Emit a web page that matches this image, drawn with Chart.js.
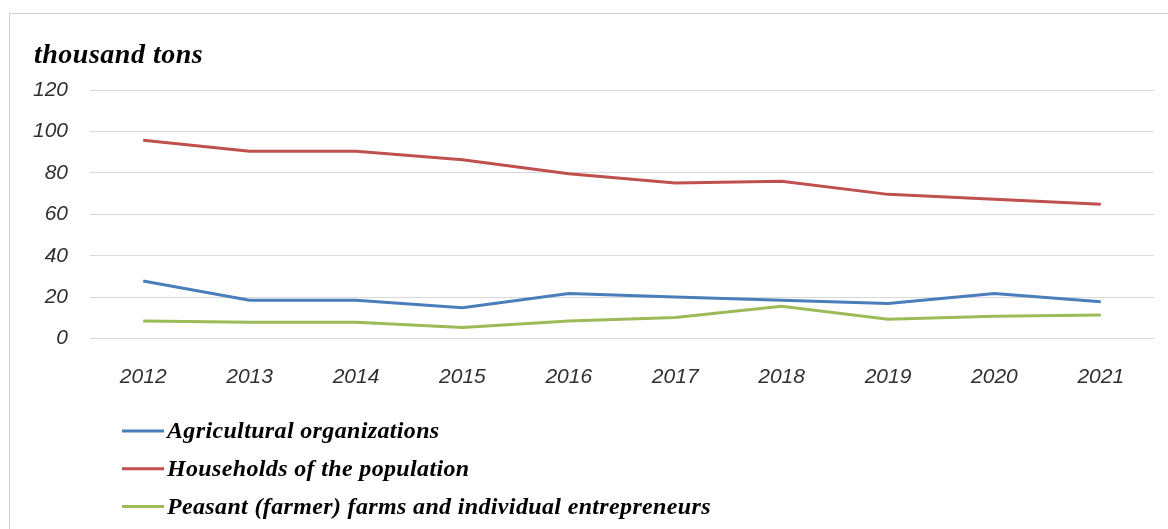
<!DOCTYPE html>
<html>
<head>
<meta charset="utf-8">
<title>thousand tons</title>
<script src="https://cdn.jsdelivr.net/npm/chart.js@4.4.0/dist/chart.umd.min.js"></script>
<style>
    html, body { margin: 0; padding: 0; background: #ffffff; }
    canvas { display: block; }
</style>
</head>
<body>
<canvas id="chart" width="1168" height="529"></canvas>
<script>
// Datos (miles de toneladas)
const years = ['2012', '2013', '2014', '2015', '2016', '2017', '2018', '2019', '2020', '2021'];
const agriculturalOrgs = [27.8, 18.5, 18.5, 14.8, 21.7, 20.1, 18.5, 16.9, 21.7, 17.7];
const households = [95.7, 90.4, 90.4, 86.3, 79.6, 75.1, 75.9, 69.6, 67.2, 64.8];
const peasantFarms = [8.4, 7.9, 7.9, 5.3, 8.4, 10.1, 15.6, 9.3, 10.8, 11.3];
const seriesNames = [
    'Agricultural organizations',
    'Households of the population',
    'Peasant (farmer) farms and individual entrepreneurs'
];
const yTicks = [0, 20, 40, 60, 80, 100, 120];
const unitTitle = 'thousand tons';

const colors = ['#4a7ebb', '#c0504d', '#9bbb59'];
const gridColor = '#d9d9d9';
const tickFont = { family: '"Liberation Sans", Arial, sans-serif', size: 21, style: 'italic' };

/**
 * Fondo, marco y título del gráfico
 */
const framePlugin = {
    id: 'frame',
    beforeDraw(chart) {
        const ctx = chart.ctx;
        ctx.save();
        ctx.fillStyle = '#ffffff';
        ctx.fillRect(0, 0, chart.width, chart.height);
        ctx.strokeStyle = '#d0d0d0';
        ctx.lineWidth = 1;
        ctx.strokeRect(9.5, 13.5, chart.width + 10, chart.height + 10);
        ctx.fillStyle = '#000000';
        ctx.font = 'italic bold 28px "Liberation Serif", "Times New Roman", serif';
        ctx.letterSpacing = '0.5px';
        ctx.textBaseline = 'alphabetic';
        ctx.fillText(unitTitle, 34, 63);
        ctx.restore();
    }
};

/**
 * Leyenda vertical dibujada a mano (una serie por fila)
 */
const verticalLegend = {
    id: 'verticalLegend',
    afterDraw(chart) {
        const ctx = chart.ctx;
        ctx.save();
        chart.data.datasets.forEach((ds, i) => {
            const y = 431 + i * 37.8;
            ctx.strokeStyle = ds.borderColor;
            ctx.lineWidth = 3;
            ctx.beginPath();
            ctx.moveTo(122, y);
            ctx.lineTo(164, y);
            ctx.stroke();
            ctx.fillStyle = '#000000';
            ctx.font = 'italic bold 24px "Liberation Serif", "Times New Roman", serif';
            ctx.letterSpacing = '0.35px';
            ctx.textBaseline = 'middle';
            ctx.fillText(ds.label, 167, y + 1);
        });
        ctx.restore();
    }
};

const makeDataset = (label, data, color) => ({
    label: label,
    data: data,
    borderColor: color,
    backgroundColor: color,
    borderWidth: 3,
    pointRadius: 0,
    tension: 0,
    fill: false
});

new Chart(document.getElementById('chart'), {
    type: 'line',
    data: {
        labels: years,
        datasets: [
            makeDataset(seriesNames[0], agriculturalOrgs, colors[0]),
            makeDataset(seriesNames[1], households, colors[1]),
            makeDataset(seriesNames[2], peasantFarms, colors[2])
        ]
    },
    options: {
        responsive: false,
        animation: false,
        devicePixelRatio: 1,
        layout: {
            padding: { left: 0, top: 90, right: 14, bottom: 130.5 }
        },
        plugins: {
            legend: { display: false },
            title: { display: false },
            tooltip: { enabled: false }
        },
        scales: {
            x: {
                offset: true,
                grid: { display: false, drawTicks: false },
                border: { display: false },
                ticks: {
                    font: tickFont,
                    color: '#303030',
                    padding: 26,
                    maxRotation: 0,
                    autoSkip: false
                },
                afterFit(scale) { scale.height = 60; }
            },
            y: {
                min: yTicks[0],
                max: yTicks[yTicks.length - 1],
                afterBuildTicks(scale) { scale.ticks = yTicks.map(v => ({ value: v })); },
                grid: { color: gridColor, lineWidth: 1, drawTicks: false },
                border: { display: false },
                ticks: {
                    font: tickFont,
                    color: '#303030',
                    padding: 22
                },
                afterFit(scale) { scale.width = 90; }
            }
        }
    },
    plugins: [framePlugin, verticalLegend]
});
</script>
</body>
</html>
